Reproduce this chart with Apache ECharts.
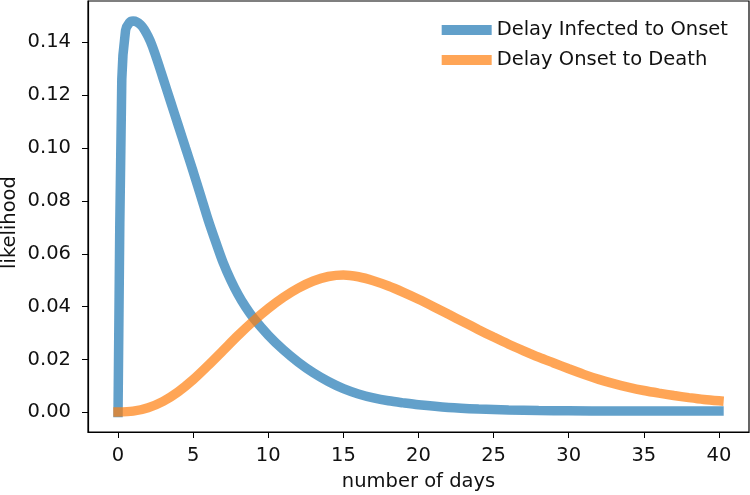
<!DOCTYPE html>
<html>
<head>
<meta charset="utf-8">
<script src="https://cdn.jsdelivr.net/npm/echarts@6/dist/echarts.min.js"></script>
<style>
  html, body { margin: 0; padding: 0; background: #fff; }
  #chart { width: 750px; height: 495px; }
</style>
</head>
<body>
<div id="chart"></div>
<script>
// values
const infectedDays = [0, 0.25, 0.5, 0.75, 1, 1.25, 1.5, 1.75, 2, 2.25, 2.5, 2.75, 3, 3.5, 4, 4.5, 5, 5.5, 6, 6.5, 7, 7.5, 8, 8.5, 9, 10, 11, 12, 13, 14, 15, 16, 17, 18, 19, 20, 22, 24, 26, 28, 30, 33, 36, 40];
const infectedValues = [0, 0.126, 0.1445, 0.1474, 0.148, 0.1477, 0.1466, 0.1448, 0.1422, 0.1390, 0.1350, 0.1307, 0.1263, 0.1175, 0.1087, 0.0999, 0.0911, 0.0820, 0.0728, 0.0645, 0.0566, 0.0501, 0.0445, 0.0398, 0.0358, 0.0292, 0.0237, 0.0190, 0.0150, 0.0117, 0.0090, 0.0070, 0.0055, 0.0044, 0.0036, 0.0029, 0.0019, 0.0013, 0.0009, 0.0007, 0.0006, 0.0005, 0.0005, 0.0005];

const deathDays = [0, 1, 2, 3, 4, 5, 6, 7, 8, 9, 10, 11, 12, 13, 14, 15, 16, 17, 18, 19, 20, 21, 22, 23, 24, 25, 26, 27, 28, 29, 30, 31, 32, 33, 34, 35, 36, 37, 38, 39, 40];
const deathValues = [0.0002, 0.0005, 0.0018, 0.0042, 0.0078, 0.0124, 0.0178, 0.0235, 0.0292, 0.0345, 0.0393, 0.0435, 0.0470, 0.0497, 0.0514, 0.0520, 0.0513, 0.0498, 0.0478, 0.0454, 0.0428, 0.0400, 0.0371, 0.0342, 0.0313, 0.0285, 0.0258, 0.0233, 0.0209, 0.0187, 0.0165, 0.0144, 0.0125, 0.0109, 0.0095, 0.0083, 0.0073, 0.0064, 0.0056, 0.0049, 0.0044];

const xTicks = [0, 5, 10, 15, 20, 25, 30, 35, 40];
const yTicks = [0, 0.02, 0.04, 0.06, 0.08, 0.10, 0.12, 0.14];

const seriesNames = ['Delay Infected to Onset', 'Delay Onset to Death'];

const chart = echarts.init(document.getElementById('chart'));

const font = 'DejaVu Sans';
const fs = 19.5;

const option = {
    animation: false,
    backgroundColor: '#fff',
    textStyle: { fontFamily: font },
    grid: {
        left: 88, right: 1, top: 1, bottom: 63,
        show: true,
        borderColor: '#000',
        borderWidth: 1.2,
        outerBoundsMode: 'none'
    },
    legend: {
        orient: 'vertical',
        right: 17,
        top: 15,
        itemWidth: 50,
        itemHeight: 10,
        itemGap: 10,
        icon: 'rect',
        textStyle: { fontFamily: font, fontSize: fs, color: '#111' },
        data: seriesNames
    },
    xAxis: {
        type: 'value',
        min: -2,
        max: 42,
        name: 'number of days',
        nameLocation: 'middle',
        nameGap: 40,
        nameMoveOverlap: false,
        nameTextStyle: { fontFamily: font, fontSize: fs, color: '#111' },
        splitLine: { show: false },
        axisLine: { onZero: false, lineStyle: { color: '#000', width: 1.2 } },
        axisTick: { show: true, length: 6, customValues: xTicks, lineStyle: { color: '#000' } },
        axisLabel: {
            customValues: xTicks,
            margin: 14,
            fontSize: fs,
            color: '#111'
        }
    },
    yAxis: {
        type: 'value',
        min: -0.0074,
        max: 0.1556,
        name: 'likelihood',
        nameLocation: 'middle',
        nameGap: 68,
        nameMoveOverlap: false,
        nameTextStyle: { fontFamily: font, fontSize: fs, color: '#111', padding: [0, 12, 0, 0] },
        splitLine: { show: false },
        axisLine: { show: true, onZero: false, lineStyle: { color: '#000', width: 1.2 } },
        axisTick: { show: true, length: 6, customValues: yTicks, lineStyle: { color: '#000' } },
        axisLabel: {
            customValues: yTicks,
            margin: 17,
            fontSize: fs,
            color: '#111',
            formatter: v => v.toFixed(2)
        }
    },
    series: [
        {
            name: seriesNames[0],
            type: 'line',
            showSymbol: false,
            smooth: 0.3,
            color: 'rgba(31,119,180,0.7)',
            lineStyle: { width: 9.5, cap: 'square' },
            data: infectedDays.map((d, i) => [d, infectedValues[i]])
        },
        {
            name: seriesNames[1],
            type: 'line',
            showSymbol: false,
            smooth: 0.3,
            color: 'rgba(255,127,14,0.7)',
            lineStyle: { width: 9.5, cap: 'square' },
            data: deathDays.map((d, i) => [d, deathValues[i]])
        }
    ]
};

chart.setOption(option);
</script>
</body>
</html>
